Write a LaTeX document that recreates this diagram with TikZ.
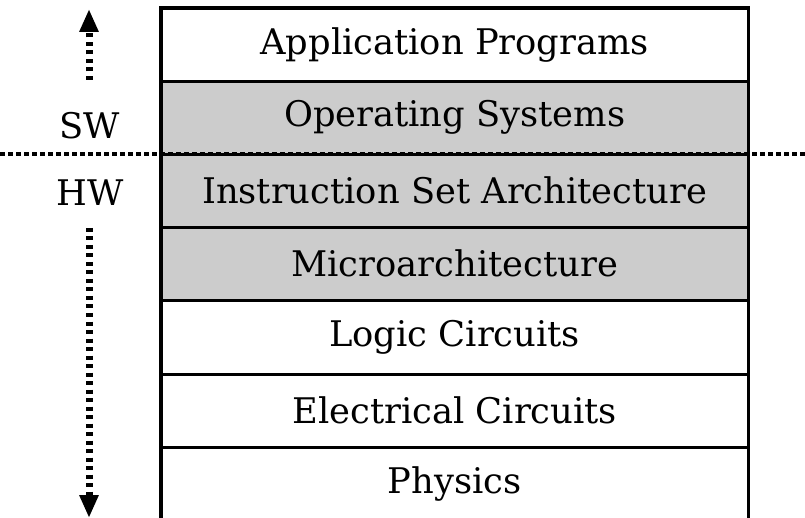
\documentclass[tikz,border=0pt]{standalone}
\usepackage{fontspec}
\setmainfont{DejaVu Serif}
\usetikzlibrary{arrows.meta}
\tikzset{
  layer/.style={draw=none, minimum width=587pt, minimum height=73pt, inner sep=0pt,
    font=\fontsize{35.3}{40}\selectfont, anchor=north west},
  shaded/.style={layer, fill=black!20},
  frame/.style={line width=3.2pt},
  hdot/.style={line width=4.5pt, dash pattern=on 5pt off 3pt},
  vdot/.style={line width=7pt, dash pattern=on 4pt off 4.5pt, -{Triangle[width=18pt,length=23pt]}},
  side/.style={font=\fontsize{35.3}{40}\selectfont, inner sep=0pt}
}
\begin{document}
\begin{tikzpicture}[x=1pt,y=-1pt]
\useasboundingbox (0,0) rectangle (805,518);
\node[layer]  (app)  at (161,8)   {Application Programs};
\node[shaded] (os)   at (161,81)  {Operating Systems};
\node[shaded] (isa)  at (161,154) {Instruction Set Architecture};
\node[shaded] (uarch) at (161,227) {Microarchitecture};
\node[layer]  (logic) at (161,301) {Logic Circuits};
\node[layer]  (elec) at (161,374) {Electrical Circuits};
\node[layer]  (phys) at (161,447) {Physics};
% frame
\draw[frame] (app.south west) |- (app.north east) -- (phys.south east);
\draw[frame] (app.north west) -- (phys.south west);
\foreach \n in {app,os,isa,uarch,logic,elec}
  \draw[frame] (\n.south west) -- (\n.south east);
% dotted separator
\coordinate (sl) at (0,154);
\coordinate (sr) at (805,154);
\draw[hdot] (sl) -- (sr);
% labels
\node[side] (sw) at (90,126) {SW};
\node[side] (hw) at (90,193) {HW};
% arrows
\coordinate (ua) at (89,80);
\coordinate (ub) at (89,9);
\coordinate (da) at (89,228);
\coordinate (db) at (89,518);
\draw[vdot] (ua) -- (ub);
\draw[vdot] (da) -- (db);
\end{tikzpicture}
\end{document}
